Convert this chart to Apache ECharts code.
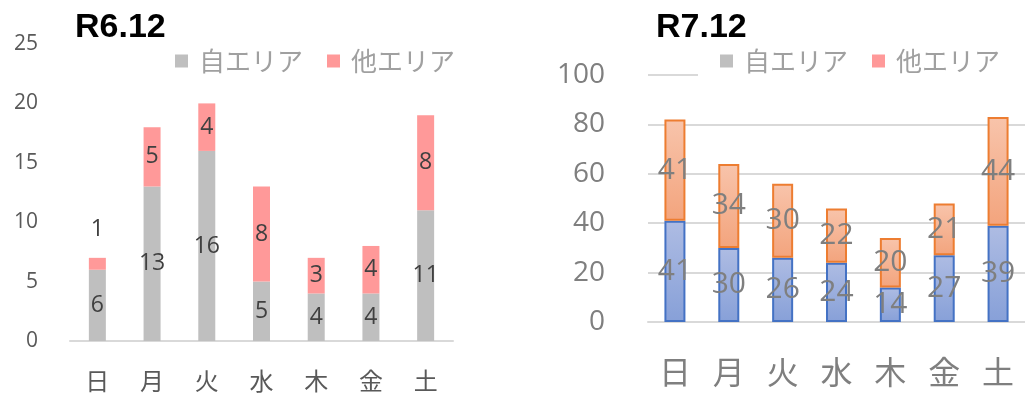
<!DOCTYPE html>
<html>
<head>
<meta charset="utf-8">
<script src="https://cdn.jsdelivr.net/npm/echarts@6/dist/echarts.min.js"></script>
<style>
  html, body { margin: 0; padding: 0; background: #fff; }
  #chart { width: 1025px; height: 393px; }
</style>
</head>
<body>
<div id="chart"></div>
<script>
// Weekday categories shared by both panels
const days = ['日', '月', '火', '水', '木', '金', '土'];
const seriesNames = ['自エリア', '他エリア'];

// R6.12 counts
const r6Own = [6, 13, 16, 5, 4, 4, 11];
const r6Other = [1, 5, 4, 8, 3, 4, 8];

// R7.12 counts
const r7Own = [41, 30, 26, 24, 14, 27, 39];
const r7Other = [41, 34, 30, 22, 20, 21, 44];

// Axis ranges
const r6Axis = { min: 0, max: 25, interval: 5 };
const r7Axis = { min: 0, max: 100, interval: 20 };

const jp = '"Noto Sans CJK JP", "Noto Sans", sans-serif';
const num = '"Open Sans", "Noto Sans", sans-serif';
const grayFill = '#bfbfbf';
const pinkFill = '#ff9999';

function grad(top, bottom) {
  return { type: 'linear', x: 0, y: 0, x2: 0, y2: 1,
    colorStops: [{ offset: 0, color: top }, { offset: 1, color: bottom }] };
}

function legendFor(left) {
  return {
    left: left, top: 42,
    width: 300,
    backgroundColor: '#fff',
    padding: [5, 50, 4, 22],
    itemWidth: 13, itemHeight: 13, itemGap: 24,
    icon: 'rect',
    selectedMode: false,
    textStyle: { fontFamily: jp, fontSize: 26, color: '#a0a0a0', lineHeight: 28, padding: [0, 0, 0, 6] },
    data: [
      { name: seriesNames[0], itemStyle: { color: grayFill } },
      { name: seriesNames[1], itemStyle: { color: pinkFill } }
    ]
  };
}

// Small data label moved above the short 日 segment
const r6OtherData = r6Other.map((v, i) => i === 0
  ? { value: v, label: { offset: [0, -34] } }
  : v);

const chart = echarts.init(document.getElementById('chart'), null, { renderer: 'canvas' });

chart.setOption({
  animation: false,
  title: [
    { text: 'R6.12', left: 70, top: 6, textStyle: { fontFamily: 'Liberation Sans, Arial, sans-serif', fontWeight: 'bold', fontSize: 34, color: '#000' } },
    { text: 'R7.12', left: 651, top: 6, textStyle: { fontFamily: 'Liberation Sans, Arial, sans-serif', fontWeight: 'bold', fontSize: 34, color: '#000' } }
  ],
  legend: [legendFor(153), legendFor(698)],
  grid: [
    { left: 70, top: 44, width: 383, height: 297 },
    { left: 648, top: 75, width: 383, height: 247 }
  ],
  xAxis: [
    {
      type: 'category', gridIndex: 0, data: days,
      axisLine: { lineStyle: { color: '#d9d9d9', width: 2 } },
      axisTick: { length: 9, lineStyle: { color: '#d9d9d9', width: 2 } },
      axisLabel: { fontFamily: jp, fontSize: 24, color: '#595959', margin: 28 }
    },
    {
      type: 'category', gridIndex: 1, data: days,
      axisLine: { lineStyle: { color: '#d9d9d9', width: 2 } },
      axisTick: { length: 11, lineStyle: { color: '#d9d9d9', width: 2 } },
      axisLabel: { fontFamily: jp, fontSize: 32, color: '#7f7f7f', margin: 34 }
    }
  ],
  yAxis: [
    {
      type: 'value', gridIndex: 0, min: r6Axis.min, max: r6Axis.max, interval: r6Axis.interval,
      axisLine: { show: false }, axisTick: { show: false }, splitLine: { show: false },
      axisLabel: { fontFamily: num, fontSize: 21, color: '#595959', margin: 32 }
    },
    {
      type: 'value', gridIndex: 1, min: r7Axis.min, max: r7Axis.max, interval: r7Axis.interval,
      axisLine: { show: false }, axisTick: { show: false },
      splitLine: { lineStyle: { color: '#d9d9d9', width: 2 } },
      axisLabel: { fontFamily: num, fontSize: 28, color: '#7f7f7f', margin: 43 }
    }
  ],
  series: [
    {
      name: seriesNames[0], type: 'bar', stack: 'r6', xAxisIndex: 0, yAxisIndex: 0,
      barWidth: 17, data: r6Own,
      itemStyle: { color: grayFill },
      label: { show: true, position: 'inside', fontFamily: num, fontSize: 23, color: '#404040' }
    },
    {
      name: seriesNames[1], type: 'bar', stack: 'r6', xAxisIndex: 0, yAxisIndex: 0,
      barWidth: 17, data: r6OtherData,
      itemStyle: { color: pinkFill },
      label: { show: true, position: 'inside', fontFamily: num, fontSize: 23, color: '#404040' }
    },
    {
      name: seriesNames[0], type: 'bar', stack: 'r7', xAxisIndex: 1, yAxisIndex: 1,
      barWidth: 21, data: r7Own,
      itemStyle: { color: grad('#aebce3', '#87a0d8'), borderColor: '#4472c4', borderWidth: 2 },
      label: { show: true, position: 'inside', fontFamily: num, fontSize: 30, color: '#7f7f7f' }
    },
    {
      name: seriesNames[1], type: 'bar', stack: 'r7', xAxisIndex: 1, yAxisIndex: 1,
      barWidth: 21, data: r7Other,
      itemStyle: { color: grad('#f8c4ab', '#f3a47d'), borderColor: '#ed7d31', borderWidth: 2 },
      label: { show: true, position: 'inside', fontFamily: num, fontSize: 30, color: '#7f7f7f' }
    }
  ]
});
</script>
</body>
</html>
